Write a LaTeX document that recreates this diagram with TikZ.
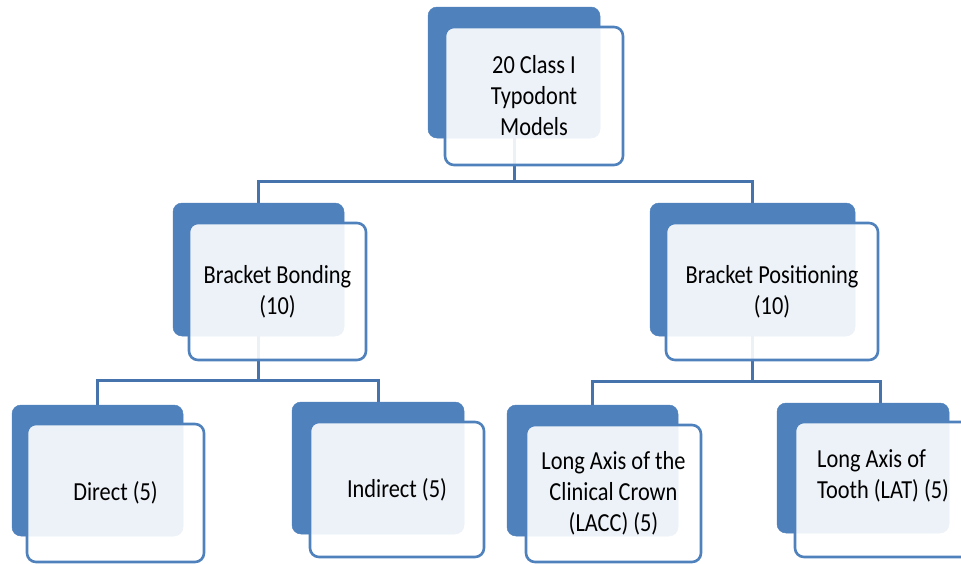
\documentclass[tikz,border=0pt]{standalone}
\usepackage{fontspec}
\setmainfont{Carlito}[FakeStretch=0.86]
\definecolor{accent}{HTML}{4F81BD}
\definecolor{connc}{HTML}{4673AC}
\pgfdeclarelayer{background}
\pgfsetlayers{background,main}
\begin{document}
\begin{tikzpicture}[x=1pt,y=-1pt,
  backbox/.style={fill=accent, draw=accent, line width=0.5pt, rounded corners=9pt, inner sep=0pt},
  frontbox/.style={fill=white, fill opacity=0.9, text opacity=1, draw=accent, line width=2.6pt,
    rounded corners=9pt, inner sep=0pt, align=center, text=black,
    font=\fontsize{26}{31}\selectfont},
  lbl/.style={inner sep=0pt, align=left, text=black, font=\fontsize{26}{31}\selectfont},
  conn/.style={draw=connc, line width=3pt}]
\useasboundingbox (0,0) rectangle (961,563);
\clip (0,0) rectangle (961,563);

% back boxes
\node[backbox, minimum width=172pt, minimum height=131pt] (topb) at (514,72.5) {};
\node[backbox, minimum width=171pt, minimum height=133pt] (bbb) at (258.5,269.5) {};
\node[backbox, minimum width=205pt, minimum height=133pt] (bpb) at (752.5,269.5) {};
\node[backbox, minimum width=171pt, minimum height=131pt] (dirb) at (97.5,470.5) {};
\node[backbox, minimum width=172pt, minimum height=132pt] (indb) at (378,468) {};
\node[backbox, minimum width=171pt, minimum height=131pt] (laccb) at (592.5,470.5) {};
\node[backbox, minimum width=172pt, minimum height=130pt] (latb) at (863,468) {};

% front boxes
\node[frontbox, minimum width=178pt, minimum height=138pt] (topf) at (534,96) {20 Class I\\Typodont\\Models};
\node[frontbox, minimum width=177pt, minimum height=137pt] (bbf) at (277.5,291.5) {Bracket Bonding\\(10)};
\node[frontbox, minimum width=212pt, minimum height=137pt] (bpf) at (772,291.5) {Bracket Positioning\\(10)};
\node[frontbox, minimum width=177pt, minimum height=138pt] (dirf) at (115.5,493) {Direct (5)};
\node[frontbox, minimum width=174pt, minimum height=135pt] (indf) at (397,489.5) {Indirect (5)};
\node[frontbox, minimum width=175pt, minimum height=137pt] (laccf) at (613.5,493.5) {Long Axis of the\\Clinical Crown\\(LACC) (5)};
\node[frontbox, minimum width=178pt, minimum height=135pt] (latf) at (884,489.5) {};
\node[lbl, anchor=west] (latt) at (817,476) {Long Axis of\\Tooth (LAT) (5)};

\coordinate (latc) at (880,403);

% connectors
\begin{pgfonlayer}{background}
\draw[conn] (topb.south) -- (topb.south |- 0,181) -| (bbb.north);
\draw[conn] (topb.south |- 0,181) -| (bpb.north);
\draw[conn] (bbb.south) -- (bbb.south |- 0,380) -| (dirb.north);
\draw[conn] (bbb.south |- 0,380) -| (indb.north);
\draw[conn] (bpb.south) -- (bpb.south |- 0,381) -| (laccb.north);
\draw[conn] (bpb.south |- 0,381) -| (latc);
\end{pgfonlayer}
\end{tikzpicture}
\end{document}
